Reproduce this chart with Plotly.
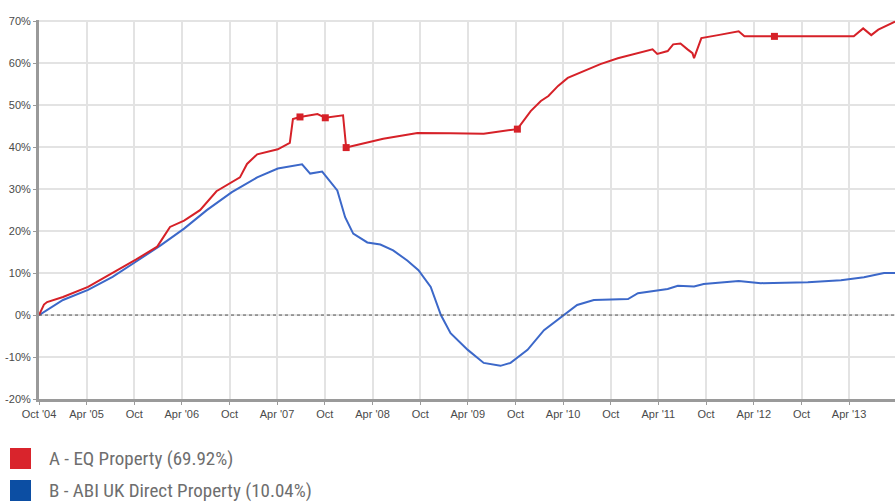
import plotly.graph_objects as go

# Cumulative performance, % since Oct 2004
eq_dates = [
    "2004-10-01", "2004-10-20", "2004-11-01", "2005-01-01", "2005-04-07", "2005-07-10",
    "2005-10-07", "2005-12-28", "2006-02-15", "2006-04-10", "2006-06-10", "2006-08-12",
    "2006-10-10", "2006-11-10", "2006-12-07", "2007-01-15", "2007-04-04", "2007-05-20",
    "2007-06-01", "2007-06-28", "2007-09-03", "2007-10-03", "2007-12-10", "2007-12-22",
    "2008-05-12", "2008-09-20", "2009-01-25", "2009-06-01", "2009-09-12", "2009-10-08",
    "2009-11-28", "2010-01-06", "2010-02-04", "2010-03-13", "2010-04-19", "2010-06-19",
    "2010-08-22", "2010-10-28", "2010-12-28", "2011-03-10", "2011-03-28", "2011-05-07",
    "2011-05-28", "2011-06-25", "2011-07-22", "2011-08-10", "2011-08-16", "2011-09-13",
    "2011-11-16", "2012-02-03", "2012-02-25", "2012-06-19", "2013-04-19", "2013-05-25",
    "2013-06-25", "2013-07-22", "2013-09-24",
]
eq_values = [
    0.0, 2.5, 3.1, 4.3, 6.7, 10.0,
    13.2, 16.3, 21.0, 22.5, 25.0, 29.5,
    31.6, 32.8, 36.0, 38.3, 39.5, 41.0,
    46.7, 47.2, 47.9, 47.0, 47.6, 39.9,
    42.0, 43.4, 43.3, 43.2, 44.1, 44.3,
    48.6, 51.0, 52.2, 54.6, 56.5, 58.1,
    59.8, 61.2, 62.2, 63.3, 62.2, 62.9,
    64.5, 64.7, 63.3, 62.4, 61.2, 66.0,
    66.7, 67.6, 66.4, 66.4, 66.4, 68.3,
    66.7, 68.0, 69.92,
]
eq_marker_dates = ["2007-06-28", "2007-10-03", "2007-12-22", "2009-10-08", "2012-06-19"]
eq_marker_values = [47.2, 47.0, 39.9, 44.3, 66.4]

abi_dates = [
    "2004-10-01", "2005-01-01", "2005-04-07", "2005-07-10", "2005-10-07", "2006-01-10",
    "2006-04-10", "2006-07-06", "2006-10-10", "2007-01-15", "2007-04-04", "2007-07-06",
    "2007-08-06", "2007-09-21", "2007-11-18", "2007-12-18", "2008-01-18", "2008-03-12",
    "2008-05-01", "2008-06-19", "2008-08-12", "2008-09-24", "2008-11-10", "2008-12-19",
    "2009-01-25", "2009-04-01", "2009-06-01", "2009-08-04", "2009-09-12", "2009-11-16",
    "2010-01-18", "2010-04-04", "2010-05-25", "2010-07-28", "2010-12-06", "2011-01-13",
    "2011-05-07", "2011-06-15", "2011-08-16", "2011-09-22", "2012-02-03", "2012-04-28",
    "2012-10-25", "2013-03-01", "2013-05-28", "2013-08-13", "2013-09-24",
]
abi_values = [
    0.0, 3.6, 6.0, 9.1, 12.7, 16.6,
    20.6, 25.0, 29.3, 32.8, 34.9, 35.9,
    33.7, 34.2, 29.7, 23.3, 19.4, 17.3,
    16.8, 15.4, 13.0, 10.7, 6.7, 0.0,
    -4.3, -8.3, -11.4, -12.1, -11.4, -8.3,
    -3.6, 0.0, 2.4, 3.6, 3.8, 5.2,
    6.2, 7.0, 6.8, 7.4, 8.1, 7.6,
    7.8, 8.3, 9.0, 10.0, 10.04,
]

tick_dates = [
    "2004-10-01", "2005-04-01", "2005-10-01", "2006-04-01", "2006-10-01", "2007-04-01",
    "2007-10-01", "2008-04-01", "2008-10-01", "2009-04-01", "2009-10-01", "2010-04-01",
    "2010-10-01", "2011-04-01", "2011-10-01", "2012-04-01", "2012-10-01", "2013-04-01",
]
tick_labels = [
    "Oct '04", "Apr '05", "Oct", "Apr '06", "Oct", "Apr '07",
    "Oct", "Apr '08", "Oct", "Apr '09", "Oct", "Apr '10",
    "Oct", "Apr '11", "Oct", "Apr '12", "Oct", "Apr '13",
]
y_ticks = [-20, -10, 0, 10, 20, 30, 40, 50, 60, 70]
y_labels = [f"{v}%" for v in y_ticks]

legend_labels = ["A - EQ Property (69.92%)", "B - ABI UK Direct Property (10.04%)"]

RED = "#d62128"
BLUE = "#3c68c9"
LEG_RED = "#d9242c"
LEG_BLUE = "#0c4ea3"

fig = go.Figure()
fig.add_trace(go.Scatter(
    x=abi_dates, y=abi_values, mode="lines",
    line=dict(color=BLUE, width=2), showlegend=False, hoverinfo="skip",
))
fig.add_trace(go.Scatter(
    x=eq_dates, y=eq_values, mode="lines",
    line=dict(color=RED, width=2, shape="linear"), showlegend=False, hoverinfo="skip",
))
fig.add_trace(go.Scatter(
    x=eq_marker_dates, y=eq_marker_values, mode="markers",
    marker=dict(color=RED, size=7, symbol="square"), showlegend=False, hoverinfo="skip",
))

# dashed zero line
fig.add_shape(type="line", xref="paper", yref="y", x0=0, x1=1, y0=0, y1=0,
              line=dict(color="#555555", width=1, dash="3px,3px"), layer="above")

# legend rows drawn below the plot
legend_font = "Liberation Sans Narrow, Roboto Condensed, DejaVu Sans Condensed, Arial Narrow, sans-serif"
row_tops = [448, 480]
for label, col, top in zip(legend_labels, [LEG_RED, LEG_BLUE], row_tops):
    fig.add_shape(type="rect", xref="paper", yref="paper",
                  x0=(10 - 39) / 856, x1=(31 - 39) / 856,
                  y0=(399 - (top + 21)) / 379, y1=(399 - top) / 379,
                  fillcolor=col, line=dict(width=0))
    fig.add_annotation(xref="paper", yref="paper",
                       x=(47 - 39) / 856, y=(399 - (top + 10)) / 379,
                       text=label, showarrow=False, xanchor="left", yanchor="middle",
                       font=dict(family=legend_font, size=19, color="#6e6e6e"))

axis_font = dict(family="Liberation Sans Narrow, Arial, sans-serif", size=11, color="#4a4a4a")

fig.update_layout(
    width=896, height=502,
    margin=dict(l=39, r=1, t=20, b=103),
    paper_bgcolor="white", plot_bgcolor="white",
    xaxis=dict(
        type="date", range=["2004-10-01", "2013-09-24"],
        tickvals=tick_dates, ticktext=tick_labels,
        showgrid=True, gridcolor="#e3e3e3", gridwidth=1.5,
        showline=True, linecolor="#9a9a9a", linewidth=3,
        ticks="outside", ticklen=3, tickcolor="#9a9a9a",
        tickfont=axis_font, zeroline=False,
    ),
    yaxis=dict(
        range=[-20, 70.3], tickvals=y_ticks, ticktext=y_labels,
        showgrid=True, gridcolor="#e3e3e3", gridwidth=1.5,
        showline=True, linecolor="#9a9a9a", linewidth=3,
        ticks="outside", ticklen=3, tickcolor="#9a9a9a",
        tickfont=axis_font, zeroline=False,
    ),
)

fig.write_html("out.html")
